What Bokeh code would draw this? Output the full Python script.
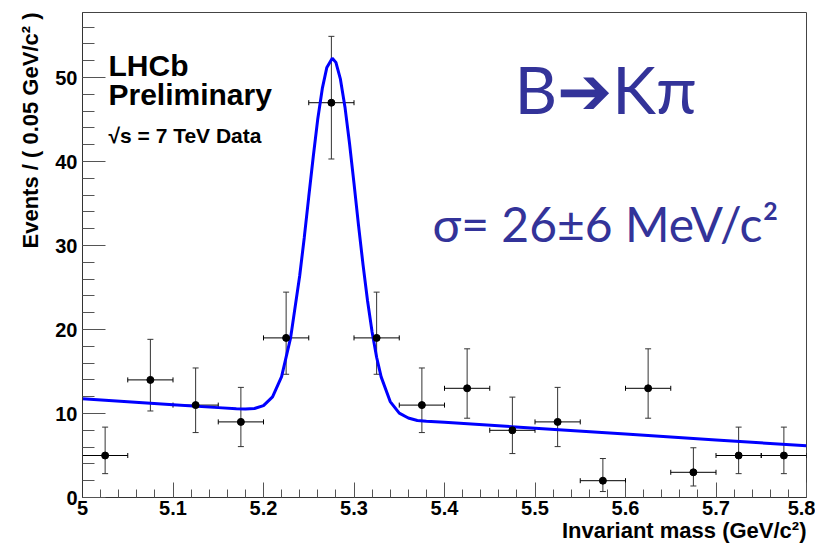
import numpy as np
from bokeh.plotting import figure
from bokeh.models import (ColumnDataSource, Whisker, TeeHead, Label, FixedTicker, Range1d, Title)
from bokeh.embed import file_html
from bokeh.resources import INLINE

# ---- data ----
bin_centers = [5.025, 5.075, 5.125, 5.175, 5.225, 5.275, 5.325, 5.375,
               5.425, 5.475, 5.525, 5.575, 5.625, 5.675, 5.725, 5.775]
counts = [5, 14, 11, 9, 19, 47, 19, 11, 13, 8, 9, 2, 13, 3, 5, 5]
err_low = [2.84, 10.30, 7.73, 6.06, 14.67, 40.3, 14.67, 7.73,
           9.44, 5.23, 6.06, 0.71, 9.44, 1.37, 2.84, 2.84]
err_high = [8.38, 18.83, 15.42, 13.11, 24.45, 54.9, 24.45, 15.42,
            17.70, 11.95, 13.11, 4.64, 17.70, 5.92, 8.38, 8.38]
bin_width = 0.05

fit_x = [5.00, 5.05, 5.10, 5.15, 5.17, 5.18, 5.19, 5.20, 5.21, 5.22, 5.23,
         5.24, 5.245, 5.25, 5.255, 5.26, 5.265, 5.27, 5.276, 5.28, 5.285,
         5.29, 5.295, 5.30, 5.305, 5.31, 5.315, 5.32, 5.325, 5.33, 5.34,
         5.35, 5.36, 5.37, 5.38, 5.40, 5.50, 5.60, 5.70, 5.80]
fit_y = [11.75, 11.40, 11.05, 10.70, 10.56, 10.54, 10.60, 10.94, 11.98, 14.38, 19.03,
         26.4, 30.9, 35.8, 40.6, 45.1, 48.7, 51.2, 52.3, 51.8, 49.8,
         46.5, 42.2, 37.4, 32.4, 27.7, 23.4, 19.7, 16.7, 14.36, 11.42,
         10.04, 9.46, 9.17, 9.09, 8.95, 8.25, 7.55, 6.85, 6.15]

x_ticks = [5.0, 5.1, 5.2, 5.3, 5.4, 5.5, 5.6, 5.7, 5.8]
x_tick_labels = ["5", "5.1", "5.2", "5.3", "5.4", "5.5", "5.6", "5.7", "5.8"]
y_ticks = [0, 10, 20, 30, 40, 50]

x_title = "Invariant mass (GeV/c²)"
y_title = "Events / ( 0.05 GeV/c² )"

# ---- figure ----
XMIN, XMAX = 5.0, 5.8
YMIN, YMAX = 0.0, 57.74
FL, FT, FR, FB = 82, 12, 806, 497   # frame edges in page pixels
W, H = 815, 547

p = figure(width=W, height=H, output_backend="svg", toolbar_location=None,
           x_range=Range1d(XMIN, XMAX), y_range=Range1d(YMIN, YMAX),
           min_border_left=FL, min_border_right=W - FR, min_border_top=FT,
           min_border_bottom=H - FB)
p.grid.visible = False
p.outline_line_color = "#444444"
p.outline_line_width = 1
p.background_fill_color = "white"
p.border_fill_color = "white"

TICK_FONT = "Liberation Sans"
for ax in (p.xaxis[0], p.yaxis[0]):
    ax.axis_line_color = "#333333"
    ax.major_tick_line_color = "#555555"
    ax.minor_tick_line_color = "#555555"
    ax.major_tick_out = 0
    ax.minor_tick_out = 0
    ax.major_label_text_font = TICK_FONT
    ax.major_label_text_font_style = "bold"
    ax.major_label_text_font_size = "20px"
    ax.major_label_text_color = "black"

p.xaxis[0].ticker = FixedTicker(ticks=x_ticks,
                                minor_ticks=[round(5.0 + 0.02 * i, 2) for i in range(41)])
p.xaxis[0].major_label_overrides = {t: l for t, l in zip(x_ticks, x_tick_labels)}
p.xaxis[0].major_tick_in = 15
p.xaxis[0].minor_tick_in = 8
p.xaxis[0].major_label_standoff = 3

p.yaxis[0].ticker = FixedTicker(ticks=y_ticks, minor_ticks=list(range(0, 58, 2)))
p.yaxis[0].major_tick_in = 23
p.yaxis[0].minor_tick_in = 12
p.yaxis[0].major_label_standoff = 5

# axis titles (ROOT style: right-aligned)
p.add_layout(Title(text=x_title, align="right", text_font=TICK_FONT,
                   text_font_style="bold", text_font_size="22px", text_color="black",
                   standoff=-4), "below")
p.add_layout(Title(text=y_title, align="right", text_font=TICK_FONT,
                   text_font_style="bold", text_font_size="22px", text_color="black",
                   standoff=20), "left")

# ---- fit curve ----
p.line(fit_x, fit_y, line_color="#0000ff", line_width=3)

# ---- data with error bars ----
src = ColumnDataSource(dict(
    x=bin_centers, y=counts, lo=err_low, hi=err_high,
    xl=[c - bin_width / 2 for c in bin_centers],
    xh=[c + bin_width / 2 for c in bin_centers],
))
vw = Whisker(source=src, base="x", lower="lo", upper="hi", dimension="height",
             line_color="#333333", line_width=1,
             upper_head=TeeHead(size=6, line_color="#333333", line_width=1),
             lower_head=TeeHead(size=6, line_color="#333333", line_width=1))
hw = Whisker(source=src, base="y", lower="xl", upper="xh", dimension="width",
             line_color="black", line_width=1,
             upper_head=TeeHead(size=5, line_color="black", line_width=1),
             lower_head=TeeHead(size=5, line_color="black", line_width=1))
p.add_layout(vw)
p.add_layout(hw)
p.scatter("x", "y", source=src, size=7, color="black")

# ---- texts ----
def px2x(px):
    return XMIN + (px - FL) / (FR - FL) * (XMAX - XMIN)

def py2y(py):
    return (FB - py) / (FB - FT) * (YMAX - YMIN)

p.add_layout(Label(x=px2x(108), y=py2y(81), text="LHCb", text_font=TICK_FONT,
                   text_font_style="bold", text_font_size="30px", text_color="black"))
p.add_layout(Label(x=px2x(108), y=py2y(110), text="Preliminary", text_font=TICK_FONT,
                   text_font_style="bold", text_font_size="30px", text_color="black"))
p.add_layout(Label(x=px2x(108), y=py2y(146), text="√s = 7 TeV Data", text_font=TICK_FONT,
                   text_font_style="bold", text_font_size="21px", text_color="black"))

BLUE = "#333399"
p.add_layout(Label(x=px2x(514), y=py2y(127), text="B➔Kπ", text_font="Lato",
                   text_font_size="66px", text_color=BLUE))
p.add_layout(Label(x=px2x(432), y=py2y(251), text="σ= 26±6 MeV/c²", text_font="Lato",
                   text_font_size="48px", text_color=BLUE))

open("out.html", "w").write(file_html(p, INLINE))
